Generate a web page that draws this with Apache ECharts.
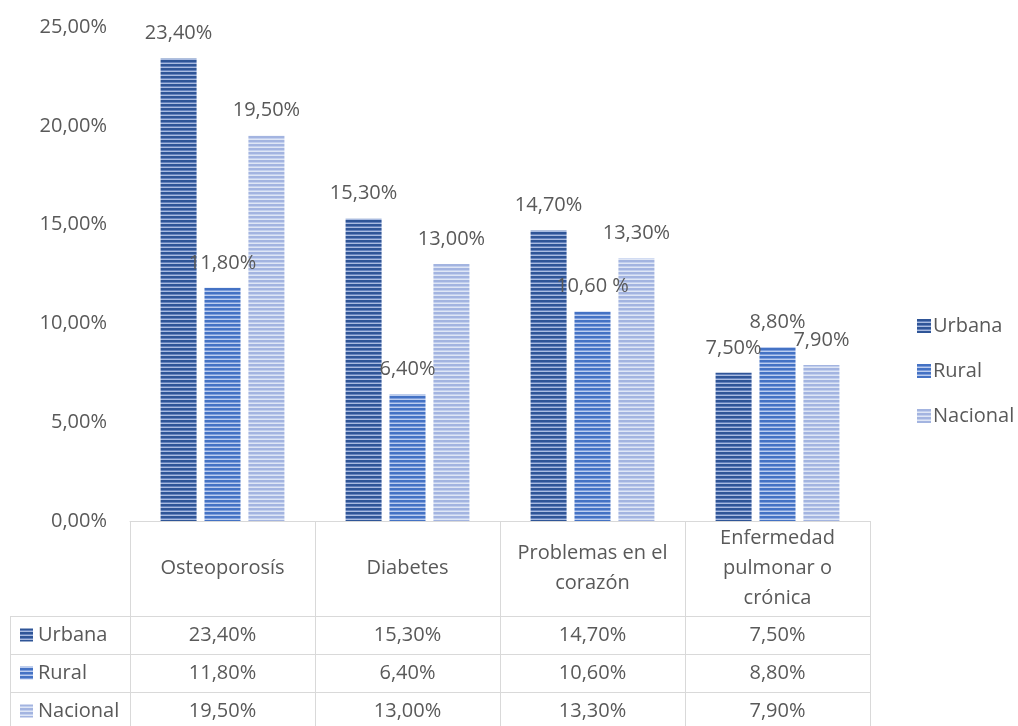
<!DOCTYPE html>
<html>
<head>
<meta charset="utf-8">
<style>
  html, body { margin: 0; padding: 0; background: #ffffff; }
  #chart { width: 1018px; height: 726px; }
</style>
<script src="https://cdn.jsdelivr.net/npm/echarts@6/dist/echarts.min.js"></script>
</head>
<body>
<div id="chart"></div>
<script>
// Prevalence of chronic conditions by area (percent)
const categories = ['Osteoporosís', 'Diabetes', 'Problemas en el\ncorazón', 'Enfermedad\npulmonar o\ncrónica'];
const seriesNames = ['Urbana', 'Rural', 'Nacional'];
const urbana = [23.4, 15.3, 14.7, 7.5];
const rural = [11.8, 6.4, 10.6, 8.8];
const nacional = [19.5, 13.0, 13.3, 7.9];
const yMax = 25;
const yStep = 5;
// a few data labels carry their own spacing
const labelOverrides = { 'Rural|2': '10,60 %' };

const TEXT = '#595959';
const LINE = '#d9d9d9';
const FONT = '"Open Sans", "Liberation Sans", sans-serif';
const FS = 20;

function pct(v) {
  return v.toFixed(2).replace('.', ',') + '%';
}

// horizontal striped fill: two dark rows, one mid, one light
function stripes(dark, mid, light) {
  const c = document.createElement('canvas');
  c.width = 4; c.height = 4;
  const ctx = c.getContext('2d');
  ctx.fillStyle = dark; ctx.fillRect(0, 0, 4, 2);
  ctx.fillStyle = mid; ctx.fillRect(0, 2, 4, 1);
  ctx.fillStyle = light; ctx.fillRect(0, 3, 4, 1);
  return { image: c, repeat: 'repeat' };
}

const fills = [
  stripes('#2f5597', '#6482bd', '#a9bbe0'),
  stripes('#4472c4', '#7d9ddb', '#bccdef'),
  stripes('#a3b4e0', '#c2cfee', '#dfe6f5')
];
const seriesData = [urbana, rural, nacional];

const gridLeft = 130, gridRight = 148, gridTop = 27, gridBottom = 205;
const W = 1018, H = 726;
const plotBottom = H - gridBottom;
const headerH = 95;
const rowH = 38;
const tableLeft = 10;
const plotRight = W - gridRight;

const chart = echarts.init(document.getElementById('chart'), null, { renderer: 'canvas' });

const series = seriesNames.map((name, i) => ({
  name: name,
  type: 'bar',
  data: seriesData[i],
  barWidth: 36,
  barGap: '22%',
  itemStyle: { color: fills[i] },
  label: {
    show: true,
    position: 'top',
    distance: 15,
    color: TEXT,
    fontFamily: FONT,
    fontSize: FS,
    formatter: p => labelOverrides[name + '|' + p.dataIndex] || pct(p.value)
  }
}));

const option = {
  backgroundColor: '#ffffff',
  animation: false,
  textStyle: { fontFamily: FONT },
  grid: { left: gridLeft, right: gridRight, top: gridTop, bottom: gridBottom },
  legend: {
    orient: 'vertical',
    left: 912,
    top: 311,
    itemWidth: 14,
    itemHeight: 14,
    itemGap: 25,
    icon: 'rect',
    data: seriesNames,
    textStyle: { color: TEXT, fontSize: FS, fontFamily: FONT, lineHeight: 20, padding: [0, 0, 0, -3] }
  },
  xAxis: {
    type: 'category',
    data: categories,
    axisLine: { show: true, lineStyle: { color: LINE, width: 1 } },
    axisTick: { show: true, length: H - plotBottom + 10, lineStyle: { color: LINE, width: 1 } },
    axisLabel: {
      interval: 0,
      margin: 47,
      color: TEXT,
      fontSize: FS,
      fontFamily: FONT,
      lineHeight: 30,
      verticalAlign: 'middle'
    }
  },
  yAxis: {
    type: 'value',
    min: 0,
    max: yMax,
    interval: yStep,
    axisLine: { show: false },
    axisTick: { show: false },
    splitLine: { show: false },
    axisLabel: {
      margin: 23,
      color: TEXT,
      fontSize: FS,
      fontFamily: FONT,
      formatter: v => pct(v)
    }
  },
  series: series
};

chart.setOption(option);

// data table below the plot
const graphics = [];
const rowsTop = plotBottom + headerH;
for (let r = 0; r < 3; r++) {
  const y = rowsTop + r * rowH;
  graphics.push({
    type: 'line', silent: true,
    shape: { x1: tableLeft, y1: y + 0.5, x2: plotRight, y2: y + 0.5 },
    style: { stroke: LINE, lineWidth: 1 }
  });
}
graphics.push({
  type: 'line', silent: true,
  shape: { x1: tableLeft + 0.5, y1: rowsTop, x2: tableLeft + 0.5, y2: H + 5 },
  style: { stroke: LINE, lineWidth: 1 }
});
seriesNames.forEach((name, r) => {
  const cy = rowsTop + r * rowH + rowH / 2;
  graphics.push({
    type: 'rect', silent: true,
    shape: { x: 20, y: cy - 6.5, width: 13, height: 13 },
    style: { fill: fills[r] }
  });
  graphics.push({
    type: 'text', silent: true,
    x: 38, y: cy,
    style: { text: name, fill: TEXT, fontSize: FS, fontFamily: FONT, verticalAlign: 'middle', align: 'left' }
  });
  seriesData[r].forEach((v, c) => {
    const cx = chart.convertToPixel({ xAxisIndex: 0 }, c);
    graphics.push({
      type: 'text', silent: true,
      x: cx, y: cy,
      style: { text: pct(v), fill: TEXT, fontSize: FS, fontFamily: FONT, verticalAlign: 'middle', align: 'center' }
    });
  });
});
chart.setOption({ graphic: graphics });
</script>
</body>
</html>
